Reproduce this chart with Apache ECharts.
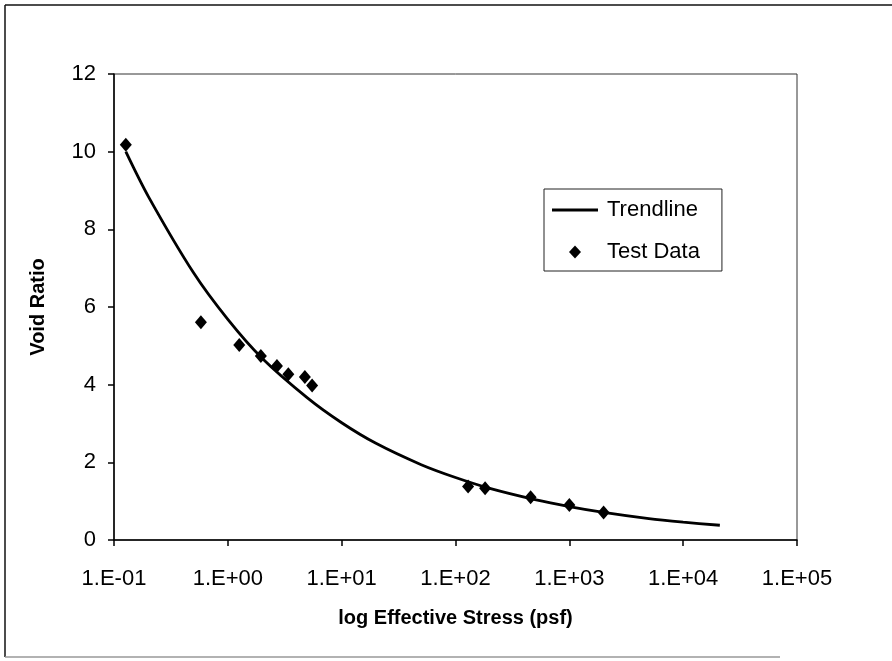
<!DOCTYPE html>
<html>
<head>
<meta charset="utf-8">
<script src="https://cdn.jsdelivr.net/npm/echarts@6/dist/echarts.min.js"></script>
<style>
  html, body { margin: 0; padding: 0; background: #fff; }
  #chart { width: 892px; height: 661px; }
</style>
</head>
<body>
<div id="chart"></div>
<script>
// Test data (effective stress in psf, void ratio)
var testStress = [0.127, 0.58, 1.26, 1.95, 2.7, 3.4, 4.75, 5.5, 129, 182, 457, 1000, 2000];
var testVoid   = [10.18, 5.61, 5.02, 4.74, 4.48, 4.27, 4.20, 3.98, 1.38, 1.33, 1.10, 0.90, 0.71];

// Trendline points
var trendStress = [0.127, 0.2, 0.5, 1, 2, 5, 10, 20, 50, 100, 200, 500, 1000, 2000, 5000, 10000, 21000];
var trendVoid   = [10.0, 8.85, 6.88, 5.68, 4.68, 3.66, 3.02, 2.49, 1.94, 1.61, 1.33, 1.04, 0.86, 0.71, 0.55, 0.46, 0.38];

// Axis tick labels
var xTickLabels = ['1.E-01', '1.E+00', '1.E+01', '1.E+02', '1.E+03', '1.E+04', '1.E+05'];
var yTicks = [0, 2, 4, 6, 8, 10, 12];

var seriesNames = ['Trendline', 'Test Data'];

function pairs(xs, ys) {
  return xs.map(function (x, i) { return [x, ys[i]]; });
}

var chart = echarts.init(document.getElementById('chart'), null, { renderer: 'canvas' });
var FONT = '"Liberation Sans", Arial, sans-serif';

chart.setOption({
  animation: false,
  backgroundColor: '#ffffff',
  textStyle: { fontFamily: FONT, color: '#000' },
  graphic: [
    { type: 'line', shape: { x1: 5, y1: 5, x2: 892, y2: 5 }, style: { stroke: '#111', lineWidth: 1.5 }, silent: true },
    { type: 'line', shape: { x1: 5, y1: 5, x2: 5, y2: 657 }, style: { stroke: '#111', lineWidth: 1.5 }, silent: true },
    { type: 'line', shape: { x1: 5, y1: 657, x2: 780, y2: 657 }, style: { stroke: '#999', lineWidth: 1.5 }, silent: true }
  ],
  grid: {
    left: 114, right: 95, top: 74, bottom: 121,
    show: true, borderColor: '#333', borderWidth: 1, backgroundColor: 'transparent'
  },
  legend: {
    data: [
      { name: seriesNames[0], icon: 'path://M0,0 L46,0 L46,3 L0,3 Z' },
      { name: seriesNames[1], icon: 'path://M6,0 L12,6.5 L6,13 L0,6.5 Z' }
    ],
    orient: 'vertical',
    left: 544, top: 189,
    padding: [10, 22, 8, 8],
    itemGap: 20,
    itemWidth: 46, itemHeight: 13,
    borderColor: '#222', borderWidth: 1, borderRadius: 0,
    backgroundColor: '#fff',
    itemStyle: { color: '#000', borderWidth: 0 },
    textStyle: { fontFamily: FONT, fontSize: 22, color: '#000', padding: [0, 0, 0, 4] }
  },
  xAxis: {
    type: 'log',
    logBase: 10,
    min: 0.1, max: 100000,
    interval: 1,
    name: 'log Effective Stress (psf)',
    nameLocation: 'middle',
    nameGap: 68,
    nameTextStyle: { fontFamily: FONT, fontSize: 20, fontWeight: 'bold', color: '#000' },
    axisLine: { lineStyle: { color: '#000', width: 1.5 } },
    axisTick: { show: true, inside: false, length: 6, lineStyle: { color: '#000', width: 1.5 } },
    minorTick: { show: false },
    splitLine: { show: false },
    axisLabel: {
      fontFamily: FONT, fontSize: 22, color: '#000', margin: 28,
      formatter: function (v) {
        var e = Math.round(Math.log10(v));
        return xTickLabels[e + 1];
      }
    }
  },
  yAxis: {
    type: 'value',
    min: yTicks[0], max: yTicks[yTicks.length - 1],
    interval: 2,
    name: 'Void Ratio',
    nameLocation: 'middle',
    nameGap: 66,
    nameTextStyle: { fontFamily: FONT, fontSize: 20, fontWeight: 'bold', color: '#000' },
    axisLine: { show: true, lineStyle: { color: '#000', width: 1.5 } },
    axisTick: { show: true, inside: false, length: 6, lineStyle: { color: '#000', width: 1.5 } },
    splitLine: { show: false },
    axisLabel: { fontFamily: FONT, fontSize: 22, color: '#000', margin: 18 }
  },
  series: [
    {
      name: seriesNames[0],
      type: 'line',
      data: pairs(trendStress, trendVoid),
      smooth: 0.3,
      showSymbol: false,
      symbol: 'none',
      lineStyle: { color: '#000', width: 2.8 },
      itemStyle: { color: '#000' },
      z: 2
    },
    {
      name: seriesNames[1],
      type: 'scatter',
      data: pairs(testStress, testVoid),
      symbol: 'diamond',
      symbolSize: [12, 14],
      itemStyle: { color: '#000', opacity: 1 },
      z: 3
    }
  ]
});
</script>
</body>
</html>
